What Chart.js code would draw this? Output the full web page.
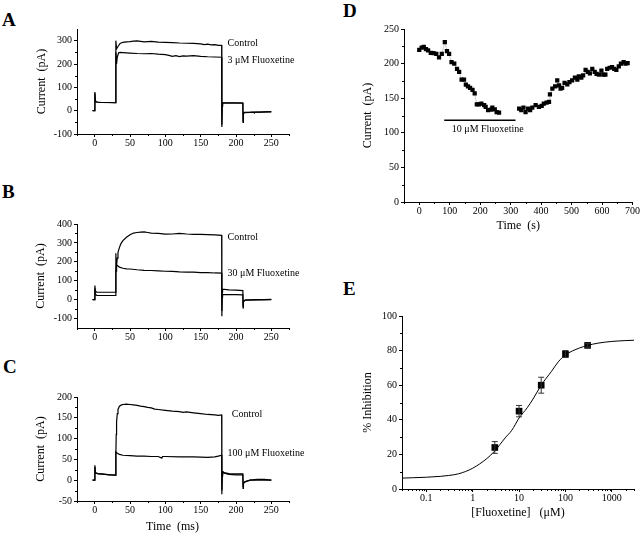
<!DOCTYPE html>
<html>
<head>
<meta charset="utf-8">
<script src="https://cdn.jsdelivr.net/npm/chart.js@4.4.0/dist/chart.umd.min.js"></script>
<style>
  body { margin: 0; background: #fff; }
  #figura { position: relative; width: 640px; height: 534px; overflow: hidden; background: #fff; }
  #figura canvas { position: absolute; }
  .letra { position: absolute; font: bold 19px "Liberation Serif", serif; line-height: 19px; color: #000; }
</style>
</head>
<body>
<div id="figura">
  <div class="letra" style="left:2px;top:10px">A</div>
  <div class="letra" style="left:2px;top:182px">B</div>
  <div class="letra" style="left:3px;top:357px">C</div>
  <div class="letra" style="left:343px;top:1px">D</div>
  <div class="letra" style="left:343px;top:279px">E</div>
  <canvas id="graficaA"></canvas>
  <canvas id="graficaB"></canvas>
  <canvas id="graficaC"></canvas>
  <canvas id="graficaD"></canvas>
  <canvas id="graficaE"></canvas>
</div>
<script>
// ---------- datos ----------
// A: 3 uM
const tiempoCtrlA = [-3, 0, 0.3, 1, 2, 5, 10, 20, 29.7, 30, 31, 33, 36, 40, 45, 50, 55, 60, 65, 70, 80, 90, 100, 110, 120, 130, 140, 150, 155, 160, 165, 170, 175, 179.7, 180, 180.5, 181, 190, 200, 209.7, 210, 210.5, 212, 220, 225, 226, 227, 235, 240, 250];
const corrCtrlA = [0, 0, 80, 45, 38, 36, 35, 35, 34, 300, 265, 275, 288, 293, 295, 296, 298, 299, 297, 295, 297, 294, 293, 292, 290, 289, 288, 286, 283, 285, 282, 283, 280, 280, -70, 20, 34, 34, 34, 33, -50, -15, -8, -7, -6, -10, -6, -6, -5, -4];
const tiempoFluoA = [-3, 0, 0.3, 1, 2, 10, 29.7, 30, 31, 32, 34, 36, 40, 50, 60, 70, 80, 90, 100, 105, 110, 115, 120, 125, 130, 140, 150, 160, 170, 179.7, 180, 180.5, 181, 209.7, 210, 210.5, 212, 250];
const corrFluoA = [0, 0, 75, 42, 37, 35, 34, 250, 200, 230, 248, 250, 249, 247, 245, 244, 245, 242, 240, 237, 233, 236, 232, 235, 234, 236, 233, 231, 230, 229, -60, 20, 33, 32, -45, -12, -7, -5];

// B: 30 uM
const tiempoCtrlB = [-3, 0, 0.3, 1, 3, 29.7, 30, 30.5, 31, 32, 33, 35, 37, 40, 45, 50, 55, 60, 65, 70, 75, 80, 90, 100, 110, 120, 130, 140, 150, 160, 170, 179.7, 180, 180.5, 181, 190, 200, 209.7, 210, 210.5, 213, 220, 230, 240, 250];
const corrCtrlB = [0, 0, 75, 45, 40, 39, 245, 150, 180, 220, 250, 275, 295, 312, 330, 343, 352, 355, 357, 358, 355, 352, 350, 346, 347, 350, 347, 345, 345, 344, 342, 340, -88, 40, 55, 52, 50, 48, -44, -10, -3, -1, 0, 0, 1];
const tiempoFluoB = [-3, 0, 0.3, 1, 3, 29.7, 30, 31, 32, 35, 40, 45, 50, 60, 70, 80, 90, 100, 110, 120, 130, 140, 150, 160, 170, 179.7, 180, 180.5, 181, 200, 209.7, 210, 210.5, 213, 250];
const corrFluoB = [0, 0, 60, 28, 22, 22, 150, 185, 180, 172, 166, 163, 162, 158, 155, 154, 152, 150, 149, 147, 146, 145, 143, 143, 141, 140, -60, 15, 26, 26, 25, -35, -8, -3, 0];

// C: 100 uM
const tiempoCtrlC = [-3, 0, 0.3, 1, 2, 5, 10, 20, 29.7, 30, 30.5, 31, 32, 33, 35, 38, 40, 45, 50, 55, 60, 65, 70, 75, 80, 85, 90, 100, 110, 120, 125, 130, 140, 150, 160, 170, 175, 179.7, 180, 180.5, 181, 183, 190, 200, 209.7, 210, 210.5, 213, 220, 230, 240, 250];
const corrCtrlC = [0, 0, 36, 20, 17, 16, 15, 13, 12, 60, 110, 140, 160, 170, 178, 181, 182, 183, 182, 181, 180, 178, 177, 175, 174, 171, 170, 168, 166, 165, 163, 164, 162, 160, 158, 157, 156, 157, -34, 10, 22, 18, 16, 15, 15, -20, -8, -4, 0, 2, 2, 0];
const tiempoFluoC = [-3, 0, 0.3, 1, 5, 29.7, 30, 31, 35, 40, 50, 60, 70, 80, 90, 95, 96, 100, 120, 140, 160, 170, 175, 179.7, 180, 180.5, 181, 190, 200, 209.7, 210, 210.5, 213, 220, 250];
const corrFluoC = [0, 0, 32, 18, 15, 12, 68, 66, 62, 60, 59, 58, 58, 57, 57, 53, 57, 57, 56, 56, 55, 56, 58, 60, -25, 12, 18, 14, 13, 13, -15, -6, -3, 0, 0];

// D: curso temporal (null = hueco durante el lavado)
const tiempoD = [0, 8, 15, 22, 29, 38, 47, 56, 65, 74, 84, 91, 98, 106, 115, 124, 131, 139, 147, 153, 160, 167, 175, 182, 189, 196, 204, 213, 218, 226, 235, 240, 248, 254, 262,
  295,
  328, 335, 342, 349, 357, 364, 371, 382, 393, 402, 409, 418, 426, 429, 437, 446, 453, 459, 464, 469, 477, 486, 493, 502, 511, 519, 524, 532, 538, 546, 553, 560, 568, 576, 582, 590, 598, 604, 611, 617, 625, 633, 640, 647, 655, 662, 671, 677, 684];
const corrienteD = [220, 223, 224, 221, 219, 215.5, 215, 214, 209, 214, 231, 218, 214, 202, 200, 192.5, 188, 177, 177, 169.5, 167, 165, 162, 157, 141, 141, 142, 140, 137.5, 132.7, 133.6, 136.5, 134, 130, 129,
  null,
  135, 132.7, 136.5, 130, 135, 132.7, 136.5, 140, 137.5, 139, 142, 143.7, 144.6, 155.6, 163.8, 167, 175.8, 168.6, 163.8, 165, 172, 170, 173.4, 175.8, 179.6, 176.7, 181.5, 179.6, 183, 191, 188, 186, 192.5, 188, 185, 184, 190, 184, 184, 192.5, 194, 195, 192.5, 191, 196, 200, 202, 200, 200.7];
const barraTiempoD = [82, 316];
const barraNivelD = [118, 118];

// E: curva dosis-respuesta
const concentracionE = [3, 10, 30, 100, 300];
const inhibicionE = [24, 45, 60, 78, 83];
const errorE = [3.4, 3.3, 4.6, 2, 1];
const curvaConcE = [0.03, 0.05, 0.1, 0.2, 0.3, 0.5, 1, 2, 3, 5, 7, 10, 15, 20, 30, 50, 70, 100, 200, 300, 500, 1000, 2000, 3000];
const curvaInhE = [6.3, 6.5, 6.8, 7.3, 7.8, 8.8, 12, 17.5, 22, 29.5, 34, 41, 47, 52, 60, 68, 73.5, 77.5, 81.5, 83, 84.3, 85.3, 85.8, 86];

// marcas de los ejes
const marcasTiempoMs = [0, 50, 100, 150, 200, 250];
const marcasA = [-100, 0, 100, 200, 300];
const marcasB = [-100, 0, 100, 200, 300, 400];
const marcasC = [-50, 0, 50, 100, 150, 200];
const marcasTiempoD = [0, 100, 200, 300, 400, 500, 600, 700];
const marcasCorrD = [0, 50, 100, 150, 200, 250];
const marcasConcE = [0.1, 1, 10, 100, 1000];
const marcasInhE = [0, 20, 40, 60, 80, 100];

// ---------- dibujo ----------
const fuente = '"Liberation Serif", "Times New Roman", serif';

function puntos(xs, ys) {
  return xs.map((x, i) => ({x: x, y: ys[i]}));
}

function menoresLog(desde, hasta) {
  let lista = [];
  for (let dec = 0.01; dec < hasta; dec *= 10) {
    for (let k = 2; k <= 9; k++) {
      let v = +(k * dec).toPrecision(3);
      if (v >= desde && v <= hasta) lista.push(v);
    }
  }
  return lista;
}

const pluginFigura = {
  id: 'figura',
  afterDraw(chart, args, opc) {
    const ctx = chart.ctx;
    const ex = chart.scales.x, ey = chart.scales.y;
    const area = chart.chartArea;
    ctx.save();
    ctx.strokeStyle = '#000';
    ctx.lineWidth = 1;
    (opc.menoresX || []).forEach(v => {
      let px = Math.round(ex.getPixelForValue(v)) + 0.5;
      ctx.beginPath(); ctx.moveTo(px, area.bottom); ctx.lineTo(px, area.bottom + 2); ctx.stroke();
    });
    (opc.menoresY || []).forEach(v => {
      let py = Math.round(ey.getPixelForValue(v)) + 0.5;
      ctx.beginPath(); ctx.moveTo(area.left, py); ctx.lineTo(area.left - 2, py); ctx.stroke();
    });
    if (opc.errores) {
      ctx.strokeStyle = '#333';
      opc.errores.x.forEach((xv, i) => {
        let px = ex.getPixelForValue(xv);
        let arriba = ey.getPixelForValue(opc.errores.y[i] + opc.errores.e[i]);
        let abajo = ey.getPixelForValue(opc.errores.y[i] - opc.errores.e[i]);
        ctx.beginPath();
        ctx.moveTo(px, arriba); ctx.lineTo(px, abajo);
        ctx.moveTo(px - 3, arriba); ctx.lineTo(px + 3, arriba);
        ctx.moveTo(px - 3, abajo); ctx.lineTo(px + 3, abajo);
        ctx.stroke();
      });
    }
    ctx.fillStyle = '#000';
    ctx.font = '10px ' + fuente;
    ctx.textBaseline = 'middle';
    (opc.rotulos || []).forEach(r => {
      ctx.textAlign = r.alinear || 'left';
      ctx.fillText(r.texto, ex.getPixelForValue(r.x), ey.getPixelForValue(r.y));
    });
    ctx.restore();
  }
};
Chart.register(pluginFigura);

function eje(o) {
  return {
    type: o.tipo || 'linear',
    min: o.min,
    max: o.max,
    bounds: 'data',
    afterBuildTicks: s => { s.ticks = o.marcas.map(v => ({value: v})); },
    afterFit: s => { if (s.isHorizontal()) s.height = o.tam; else s.width = o.tam; },
    grid: {display: true, drawOnChartArea: false, drawTicks: true, tickLength: 3, color: '#000', tickColor: '#000'},
    border: {display: true, color: '#000', width: 1},
    ticks: {
      font: {family: fuente, size: 10, lineHeight: 1},
      color: '#000',
      padding: o.padMarcas,
      autoSkip: false,
      maxRotation: 0,
      callback: v => String(v)
    },
    title: o.titulo ? {
      display: true,
      text: o.titulo,
      color: '#000',
      font: {family: fuente, size: 12},
      padding: o.horizontal ? {top: 0, bottom: o.padTitulo} : {top: o.padTitulo, bottom: 0}
    } : {display: false}
  };
}

function crearPanel(id, caja, escalas, datasets, figura) {
  const lienzo = document.getElementById(id);
  const padDer = caja.padDer || 8;
  const izq = caja.izq - caja.anchoY;
  const arr = caja.arr - 8;
  lienzo.width = caja.der + padDer - izq;
  lienzo.height = caja.aba + caja.altoX - arr;
  lienzo.style.left = izq + 'px';
  lienzo.style.top = arr + 'px';
  return new Chart(lienzo, {
    type: 'scatter',
    data: {datasets: datasets},
    options: {
      responsive: false,
      animation: false,
      layout: {padding: {top: 8, right: padDer, left: 0, bottom: 0}},
      plugins: {legend: {display: false}, tooltip: {enabled: false}, figura: figura},
      scales: escalas
    }
  });
}

function traza(xs, ys) {
  return {data: puntos(xs, ys), showLine: true, borderColor: '#000', borderWidth: 1.2, pointRadius: 0, tension: 0};
}

const ejeTiempo = (tam, titulo) => eje({min: -25, max: 275, marcas: marcasTiempoMs, tam: tam, padMarcas: 1, titulo: titulo, horizontal: true, padTitulo: 0});
const menoresTiempo = [-25, 25, 75, 125, 175, 225, 275];

crearPanel('graficaA', {izq: 77, arr: 29, der: 289, aba: 134, anchoY: 49, altoX: 16, padDer: 48}, {
  x: ejeTiempo(16),
  y: eje({min: -100, max: 350, marcas: marcasA, tam: 49, padMarcas: 2, titulo: 'Current  (pA)', padTitulo: 7})
}, [traza(tiempoCtrlA, corrCtrlA), traza(tiempoFluoA, corrFluoA)], {
  menoresX: menoresTiempo,
  menoresY: [-50, 50, 150, 250],
  rotulos: [{texto: 'Control', x: 188, y: 287}, {texto: '3 \u03bcM Fluoxetine', x: 188, y: 214}]
});

crearPanel('graficaB', {izq: 77, arr: 224, der: 289, aba: 328, anchoY: 49, altoX: 16, padDer: 48}, {
  x: ejeTiempo(16),
  y: eje({min: -150, max: 400, marcas: marcasB, tam: 49, padMarcas: 2, titulo: 'Current  (pA)', padTitulo: 6})
}, [traza(tiempoCtrlB, corrCtrlB), traza(tiempoFluoB, corrFluoB)], {
  menoresX: menoresTiempo,
  menoresY: [-50, 50, 150, 250, 350],
  rotulos: [{texto: 'Control', x: 188, y: 327}, {texto: '30 \u03bcM Fluoxetine', x: 188, y: 138}]
});

crearPanel('graficaC', {izq: 77, arr: 397, der: 289, aba: 501, anchoY: 49, altoX: 33, padDer: 48}, {
  x: ejeTiempo(33, 'Time  (ms)' + '\u00a0'.repeat(7)),
  y: eje({min: -50, max: 200, marcas: marcasC, tam: 49, padMarcas: 2, titulo: 'Current  (pA)', padTitulo: 6})
}, [traza(tiempoCtrlC, corrCtrlC), traza(tiempoFluoC, corrFluoC)], {
  menoresX: menoresTiempo,
  menoresY: [-25, 25, 75, 125, 175],
  rotulos: [{texto: 'Control', x: 194, y: 158}, {texto: '100 \u03bcM Fluoxetine', x: 188, y: 64}]
});

crearPanel('graficaD', {izq: 404, arr: 29, der: 633, aba: 202, anchoY: 49, altoX: 31}, {
  x: eje({min: -50, max: 700, marcas: marcasTiempoD, tam: 31, padMarcas: 1, titulo: 'Time  (s)', horizontal: true, padTitulo: 0}),
  y: eje({min: 0, max: 250, marcas: marcasCorrD, tam: 49, padMarcas: 2, titulo: 'Current  (pA)', padTitulo: 6})
}, [
  {data: puntos(tiempoD, corrienteD), showLine: true, spanGaps: false, borderColor: '#999', borderWidth: 0.5,
   pointStyle: 'rect', pointRadius: 3, pointBackgroundColor: '#000', pointBorderWidth: 0},
  {data: puntos(barraTiempoD, barraNivelD), showLine: true, borderColor: '#000', borderWidth: 1.5, pointRadius: 0}
], {
  menoresX: [-50, 50, 150, 250, 350, 450, 550, 650],
  menoresY: [25, 75, 125, 175, 225],
  rotulos: [{texto: '10 \u03bcM Fluoxetine', x: 225, y: 105, alinear: 'center'}]
});

crearPanel('graficaE', {izq: 402, arr: 316, der: 634, aba: 489, anchoY: 47, altoX: 31}, {
  x: eje({tipo: 'logarithmic', min: 0.03, max: 3000, marcas: marcasConcE, tam: 31, padMarcas: 1, titulo: '[Fluoxetine]   (\u03bcM)', horizontal: true, padTitulo: 0}),
  y: eje({min: 0, max: 100, marcas: marcasInhE, tam: 47, padMarcas: 2, titulo: '% Inhibition', padTitulo: 6})
}, [
  {data: puntos(concentracionE, inhibicionE), showLine: false, pointStyle: 'rect', pointRadius: 4.7, pointBackgroundColor: '#000', pointBorderWidth: 0},
  {data: puntos(curvaConcE, curvaInhE), showLine: true, borderColor: '#000', borderWidth: 1, pointRadius: 0, cubicInterpolationMode: 'monotone'}
], {
  menoresX: menoresLog(0.03, 3000),
  menoresY: [10, 30, 50, 70, 90],
  errores: {x: concentracionE, y: inhibicionE, e: errorE}
});
</script>
</body>
</html>
